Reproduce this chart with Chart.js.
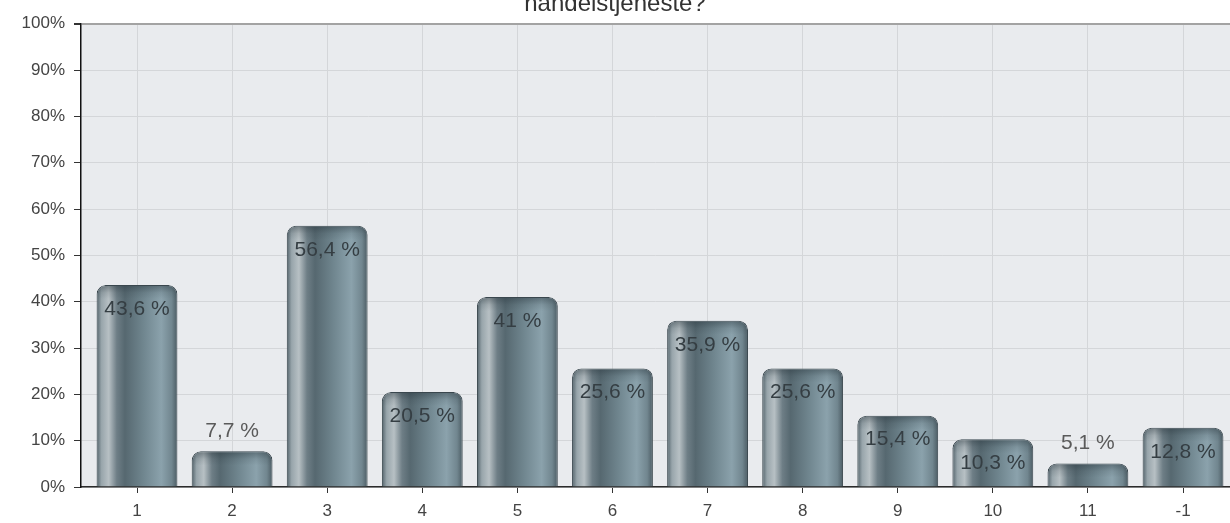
<!DOCTYPE html>
<html>
<head>
<meta charset="utf-8">
<script src="https://cdn.jsdelivr.net/npm/chart.js@4/dist/chart.umd.min.js"></script>
<style>
  html, body { margin: 0; padding: 0; background: #fff; overflow: hidden; }
  #wrap { position: absolute; left: 0; top: -12px; width: 1230px; height: 535px; }
</style>
</head>
<body>
<div id="wrap"><canvas id="c"></canvas></div>
<script>
// Answer options (x axis) and share of respondents in percent
const categories = ['1', '2', '3', '4', '5', '6', '7', '8', '9', '10', '11', '-1'];
const shares = [43.6, 7.7, 56.4, 20.5, 41, 25.6, 35.9, 25.6, 15.4, 10.3, 5.1, 12.8];
const yTicks = [0, 10, 20, 30, 40, 50, 60, 70, 80, 90, 100];
const titleText = 'handelstjeneste?';

const FONT = "'Liberation Sans', Arial, sans-serif";
const BAR_SHARE = 0.85;

// Light grey plot background
const plotBackground = {
  id: 'plotBackground',
  beforeDraw(chart) {
    const { ctx, chartArea: a } = chart;
    ctx.save();
    ctx.fillStyle = '#e9ebee';
    ctx.fillRect(a.left, a.top, a.right - a.left, a.bottom - a.top);
    ctx.restore();
  }
};

// Darker rounded cap on each bar, then the value labels:
// inside the top of tall bars, above short ones
const barDecor = {
  id: 'barDecor',
  afterDatasetsDraw(chart) {
    const { ctx } = chart;
    const meta = chart.getDatasetMeta(0);
    ctx.save();
    meta.data.forEach((bar) => {
      const half = bar.width / 2 - 1;
      const h = Math.min(14, bar.base - bar.y - 2);
      const g = ctx.createLinearGradient(0, bar.y, 0, bar.y + h);
      g.addColorStop(0, 'rgba(35,48,55,0.45)');
      g.addColorStop(0.55, 'rgba(35,48,55,0.12)');
      g.addColorStop(1, 'rgba(35,48,55,0)');
      ctx.fillStyle = g;
      ctx.beginPath();
      ctx.roundRect(bar.x - half, bar.y + 1, half * 2, h, [8, 8, 0, 0]);
      ctx.fill();
    });
    ctx.font = '21px ' + FONT;
    ctx.textAlign = 'center';
    ctx.textBaseline = 'middle';
    meta.data.forEach((bar, i) => {
      const v = shares[i];
      const text = String(v).replace('.', ',') + ' %';
      const inside = v >= 10;
      ctx.fillStyle = inside ? '#353e43' : '#5a5a5a';
      ctx.fillText(text, bar.x, inside ? bar.y + 24 : bar.y - 20);
    });
    ctx.restore();
  }
};

// Cylinder shading across each bar
function barFill(c) {
  const chart = c.chart;
  if (!chart.chartArea || c.dataIndex === undefined) return '#6f8591';
  const xs = chart.scales.x;
  const cx = xs.getPixelForValue(c.dataIndex);
  const half = (xs.getPixelForValue(1) - xs.getPixelForValue(0)) * BAR_SHARE / 2;
  const g = chart.ctx.createLinearGradient(cx - half, 0, cx + half, 0);
  g.addColorStop(0.00, '#52626a');
  g.addColorStop(0.06, '#98a5ab');
  g.addColorStop(0.15, '#b7c0c4');
  g.addColorStop(0.25, '#6e7e86');
  g.addColorStop(0.35, '#566870');
  g.addColorStop(0.58, '#70868f');
  g.addColorStop(0.80, '#8ba2ac');
  g.addColorStop(0.93, '#71868f');
  g.addColorStop(1.00, '#4b5b63');
  return g;
}

new Chart(document.getElementById('c'), {
  type: 'bar',
  data: {
    datasets: [{
      data: shares.map((v, i) => ({ x: i, y: v })),
      backgroundColor: barFill,
      borderColor: '#3a474e',
      borderWidth: 1,
      borderSkipped: 'bottom',
      borderRadius: { topLeft: 9, topRight: 9, bottomLeft: 0, bottomRight: 0 },
      categoryPercentage: 1,
      barPercentage: BAR_SHARE
    }]
  },
  options: {
    responsive: true,
    maintainAspectRatio: false,
    animation: false,
    layout: { padding: 0 },
    plugins: {
      legend: { display: false },
      tooltip: { enabled: false },
      title: {
        display: true,
        text: titleText,
        color: '#333',
        font: { family: FONT, size: 24, weight: 'normal' },
        padding: { top: 2, bottom: 5 }
      }
    },
    scales: {
      x: {
        type: 'linear',
        min: -0.589,
        max: 11.494,
        offset: false,
        afterBuildTicks: s => { s.ticks = categories.map((_, i) => ({ value: i })); },
        afterFit: s => { s.height = 36; },
        ticks: {
          callback: v => categories[v],
          color: '#444',
          font: { family: FONT, size: 17 },
          padding: 8,
          maxRotation: 0,
          autoSkip: false
        },
        grid: { color: '#d4d6d9', lineWidth: 1, offset: false, tickLength: 6, tickColor: '#333' },
        border: { color: '#2b2b2b', width: 1.5 }
      },
      y: {
        min: 0,
        max: 100,
        afterBuildTicks: s => { s.ticks = yTicks.map(v => ({ value: v })); },
        afterFit: s => { s.width = 81; },
        ticks: {
          callback: v => v + '%',
          color: '#444',
          font: { family: FONT, size: 17 },
          padding: 9
        },
        grid: {
          color: c => (c.tick && c.tick.value === 100 ? '#a3a3a3' : '#d4d6d9'),
          lineWidth: c => (c.tick && c.tick.value === 100 ? 2 : 1),
          tickLength: 7,
          tickColor: '#333'
        },
        border: { color: '#111', width: 1.5 }
      }
    }
  },
  plugins: [plotBackground, barDecor]
});
</script>
</body>
</html>
